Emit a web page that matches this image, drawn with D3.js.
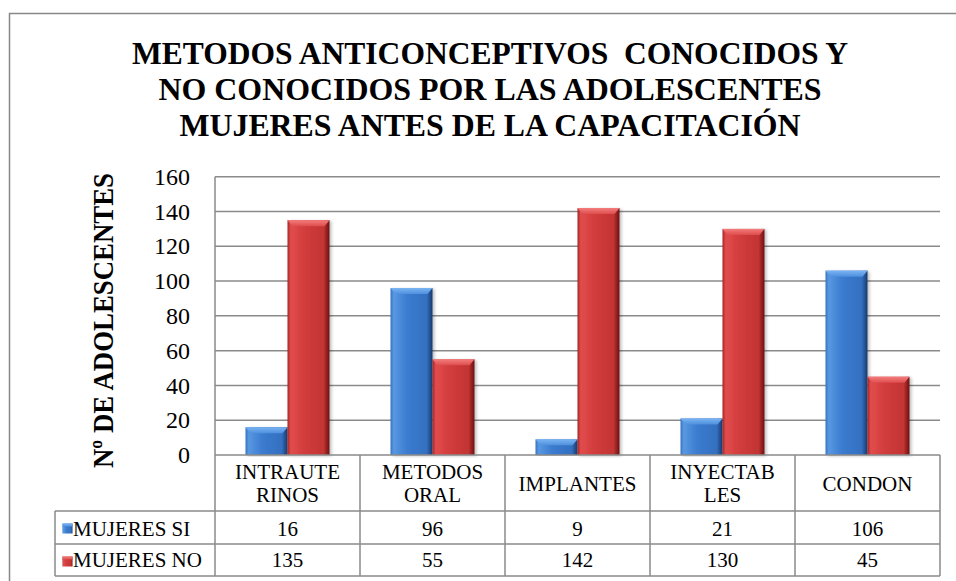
<!DOCTYPE html>
<html>
<head>
<meta charset="utf-8">
<script src="https://cdn.jsdelivr.net/npm/d3@7"></script>
<style>
  html, body { margin: 0; padding: 0; background: #fff; }
  svg { display: block; }
  text { font-family: "Liberation Serif", "Times New Roman", serif; fill: #000; }
</style>
</head>
<body>
<svg id="chart" width="956" height="581"></svg>
<script>
// Data
const categories = ["INTRAUTERINOS", "METODOS ORAL", "IMPLANTES", "INYECTABLES", "CONDON"];
const categoryLabels = [["INTRAUTE", "RINOS"], ["METODOS", "ORAL"], ["IMPLANTES"], ["INYECTAB", "LES"], ["CONDON"]];
const seriesNames = ["MUJERES SI", "MUJERES NO"];
const mujeresSi = [16, 96, 9, 21, 106];
const mujeresNo = [135, 55, 142, 130, 45];
const yTicks = [0, 20, 40, 60, 80, 100, 120, 140, 160];
const titleLines = ["METODOS ANTICONCEPTIVOS  CONOCIDOS Y", "NO CONOCIDOS POR LAS ADOLESCENTES", "MUJERES ANTES DE LA CAPACITACIÓN"];
const yTitle = "Nº DE ADOLESCENTES";

const seriesValues = [mujeresSi, mujeresNo];

const svg = d3.select("#chart");
const grid = "#8a8a8a";

// Plot area and data table geometry
const plot = { left: 215, right: 940, top: 176.7, bottom: 455 };
const table = { legendLeft: 55, headerBottom: 511, row1Bottom: 544, row2Bottom: 576 };

// Outer chart frame
svg.append("rect")
  .attr("x", 9.5).attr("y", 13.5)
  .attr("width", 1000).attr("height", 1000)
  .attr("fill", "none").attr("stroke", "#888").attr("stroke-width", 1.5);

// Gradients and shadow for the bevelled bars
const defs = svg.append("defs");
const palettes = [
  { id: "blue", edgeL: "#3a74c0", light: "#5898e2", mid: "#3b7bcf", mid2: "#3470c0", edgeR: "#17396c", cap: "#7ab4f2", capDark: "#4f90de" },
  { id: "red", edgeL: "#a42626", light: "#e24c4c", mid: "#d23c3c", mid2: "#c33434", edgeR: "#6a0f0f", cap: "#f47d7d", capDark: "#de4d4d" }
];
palettes.forEach(p => {
  const g = defs.append("linearGradient").attr("id", "body-" + p.id)
    .attr("x1", "0%").attr("x2", "100%").attr("y1", "0%").attr("y2", "0%");
  g.append("stop").attr("offset", "0%").attr("stop-color", p.edgeL);
  g.append("stop").attr("offset", "8%").attr("stop-color", p.light);
  g.append("stop").attr("offset", "40%").attr("stop-color", p.mid);
  g.append("stop").attr("offset", "86%").attr("stop-color", p.mid2);
  g.append("stop").attr("offset", "100%").attr("stop-color", p.edgeR);
  const c = defs.append("linearGradient").attr("id", "cap-" + p.id)
    .attr("x1", "0%").attr("x2", "0%").attr("y1", "0%").attr("y2", "100%");
  c.append("stop").attr("offset", "0%").attr("stop-color", p.cap);
  c.append("stop").attr("offset", "100%").attr("stop-color", p.capDark);
});
const shadow = defs.append("filter").attr("id", "barShadow")
  .attr("x", "-20%").attr("y", "-5%").attr("width", "150%").attr("height", "110%");
shadow.append("feDropShadow").attr("dx", 2).attr("dy", 1).attr("stdDeviation", 1.5)
  .attr("flood-color", "#000").attr("flood-opacity", 0.25);

// Scales
const x = d3.scaleBand().domain(categories).range([plot.left, plot.right]).padding(0);
const x1 = d3.scaleBand().domain(seriesNames).range([0, x.bandwidth()]).paddingInner(0).paddingOuter(0.726);
const y = d3.scaleLinear().domain([0, 160]).range([plot.bottom, plot.top]);

// Gridlines
svg.append("g").selectAll("line").data(yTicks.filter(d => d > 0)).join("line")
  .attr("x1", plot.left).attr("x2", plot.right)
  .attr("y1", d => y(d)).attr("y2", d => y(d))
  .attr("stroke", grid).attr("stroke-width", 1.5);

// Y axis labels
const yAxis = svg.append("g")
  .attr("transform", `translate(${plot.left},0)`)
  .call(d3.axisLeft(y).tickValues(yTicks).tickSize(0).tickPadding(25).tickFormat(d3.format("d")));
yAxis.select(".domain").remove();
yAxis.selectAll("text")
  .style("font-family", "'Liberation Serif', serif")
  .style("font-size", "24px")
  .attr("fill", "#000");

// Y axis title
svg.append("text")
  .attr("transform", `translate(113,320.5) rotate(-90)`)
  .attr("text-anchor", "middle")
  .attr("font-weight", "bold")
  .attr("font-size", 30)
  .attr("textLength", 295)
  .attr("lengthAdjust", "spacingAndGlyphs")
  .text(yTitle);

// Title
const titleBaselines = [64.3, 99.8, 136];
const titleWidths = [716, 663, 621];
titleLines.forEach((t, i) => {
  svg.append("text")
    .attr("x", 490).attr("y", titleBaselines[i])
    .attr("text-anchor", "middle")
    .attr("font-weight", "bold")
    .attr("font-size", 32)
    .attr("textLength", titleWidths[i])
    .attr("lengthAdjust", "spacingAndGlyphs")
    .attr("xml:space", "preserve")
    .style("white-space", "pre")
    .text(t);
});

// Bars
const barData = [];
categories.forEach((c, i) => {
  seriesNames.forEach((s, j) => {
    barData.push({ cat: c, series: s, value: seriesValues[j][i], pal: palettes[j].id });
  });
});
const bars = svg.append("g").selectAll("g").data(barData).join("g")
  .attr("transform", d => `translate(${x(d.cat) + x1(d.series)},0)`);
const bw = x1.bandwidth();
bars.append("rect")
  .attr("x", 0).attr("y", d => y(d.value))
  .attr("width", bw).attr("height", d => y(0) - y(d.value))
  .attr("fill", d => `url(#body-${d.pal})`)
  .attr("filter", "url(#barShadow)");
// Top bevel
bars.append("path")
  .attr("d", d => {
    const t = y(d.value), h = Math.min(6, (y(0) - y(d.value)) / 2);
    return `M0,${t} L${bw},${t} L${bw - 5},${t + h} L5,${t + h} Z`;
  })
  .attr("fill", d => `url(#cap-${d.pal})`);

// Data table lines
const tbl = svg.append("g").attr("stroke", grid).attr("stroke-width", 1.5).attr("fill", "none");
tbl.append("line").attr("x1", plot.left).attr("x2", plot.right).attr("y1", plot.bottom).attr("y2", plot.bottom);
[table.headerBottom, table.row1Bottom, table.row2Bottom].forEach(yy => {
  tbl.append("line").attr("x1", table.legendLeft).attr("x2", plot.right).attr("y1", yy).attr("y2", yy);
});
// Left plot edge continues into the table
tbl.append("line").attr("x1", plot.left).attr("x2", plot.left).attr("y1", plot.top).attr("y2", table.row2Bottom);
tbl.append("line").attr("x1", table.legendLeft).attr("x2", table.legendLeft).attr("y1", table.headerBottom).attr("y2", table.row2Bottom);
categories.forEach(c => {
  const xr = x(c) + x.bandwidth();
  tbl.append("line").attr("x1", xr).attr("x2", xr).attr("y1", plot.bottom).attr("y2", table.row2Bottom);
});

// Category headers
categories.forEach((c, i) => {
  const lines = categoryLabels[i];
  const cx = x(c) + x.bandwidth() / 2;
  const baselines = lines.length === 2 ? [479.3, 502.3] : [490.5];
  lines.forEach((l, k) => {
    svg.append("text").attr("x", cx).attr("y", baselines[k])
      .attr("text-anchor", "middle").attr("font-size", 21).text(l);
  });
});

// Row legend keys and values
const rowBaselines = [535.5, 567];
const rowTops = [table.headerBottom, table.row1Bottom];
seriesNames.forEach((s, j) => {
  const p = palettes[j];
  const top = rowTops[j];
  svg.append("rect").attr("x", 62.5).attr("y", top + 12.5).attr("width", 10).attr("height", 10)
    .attr("fill", `url(#body-${p.id})`);
  svg.append("rect").attr("x", 62.5).attr("y", top + 12.5).attr("width", 10).attr("height", 3)
    .attr("fill", `url(#cap-${p.id})`);
  svg.append("text").attr("x", 73).attr("y", rowBaselines[j]).attr("font-size", 21).text(s);
  categories.forEach((c, i) => {
    svg.append("text").attr("x", x(c) + x.bandwidth() / 2).attr("y", rowBaselines[j])
      .attr("text-anchor", "middle").attr("font-size", 21).text(seriesValues[j][i]);
  });
});
</script>
</body>
</html>
